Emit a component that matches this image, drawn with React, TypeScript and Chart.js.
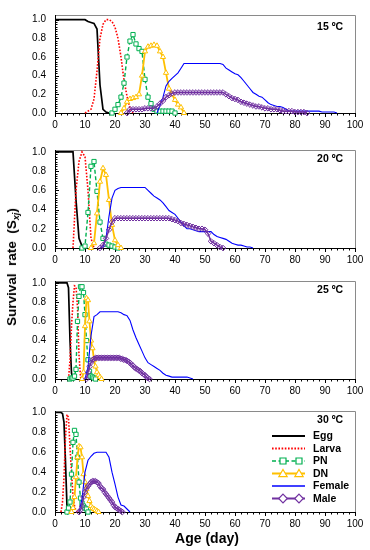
import React, { useEffect, useRef } from 'react';
import { Chart, registerables } from 'chart.js';

Chart.register(...registerables);

const FONT = '"Liberation Sans", Arial, Helvetica, sans-serif';

// ---------- labels ----------
const stageNames = ['Egg', 'Larva', 'PN', 'DN', 'Female', 'Male'];
const temperatures = ['15 ºC', '20 ºC', '25 ºC', '30 ºC'];
const xTickValues = [0, 10, 20, 30, 40, 50, 60, 70, 80, 90, 100];
const yTickValues = [0, 0.2, 0.4, 0.6, 0.8, 1.0];

// ---------- 15 ºC (series order: Egg, Larva, PN, DN, Female, Male) ----------
const start15 = [0, 10, 19, 22, 34, 24];
const step15 = [1, 1, 1, 1, 1, 1];
const egg15 = [1, 1, 1, 1, 1, 1, 1, 1, 1, 1, 1, 0.98, 0.97, 0.96, 0.9, 0.3, 0.04, 0.01, 0];
const larva15 = [0, 0.02, 0.04, 0.15, 0.45, 0.8, 0.95, 1.0, 1.0, 0.98, 0.92, 0.8, 0.6, 0.35, 0.18, 0.05, 0];
const pn15 = [0, 0.04, 0.09, 0.17, 0.32, 0.6, 0.77, 0.84, 0.74, 0.69, 0.66, 0.36, 0.17, 0.1, 0.04, 0.02, 0.02, 0.02, 0.02, 0.02, 0.02, 0];
const dn15 = [0, 0.05, 0.12, 0.15, 0.16, 0.17, 0.2, 0.4, 0.66, 0.71, 0.72, 0.73, 0.72, 0.66, 0.6, 0.43, 0.26, 0.2, 0.14, 0.09, 0.06, 0];
const female15 = [0, 0.08, 0.17, 0.29, 0.34, 0.37, 0.4, 0.43, 0.48, 0.53,
  0.53, 0.53, 0.53, 0.53, 0.53, 0.53, 0.53, 0.53, 0.53, 0.53, 0.53, 0.53,
  0.52, 0.48, 0.46, 0.44, 0.42, 0.41, 0.38, 0.34, 0.3, 0.26, 0.22, 0.2, 0.18, 0.17, 0.14, 0.11, 0.09, 0.08, 0.07, 0.07, 0.06, 0.04, 0.02,
  0.02, 0.02, 0.02, 0.02, 0.02, 0.02, 0.02, 0.02, 0.02, 0.02, 0.01, 0.01, 0.01, 0.01, 0.01, 0];
const male15 = [0, 0.04, 0.04, 0.04, 0.04, 0.04, 0.05, 0.05, 0.05, 0.05, 0.07, 0.1, 0.13, 0.17, 0.19, 0.21, 0.22,
  0.22, 0.22, 0.22, 0.22, 0.22, 0.22, 0.22, 0.22, 0.22, 0.22, 0.22, 0.22, 0.22, 0.22, 0.22, 0.22,
  0.2, 0.18, 0.16, 0.15, 0.14, 0.12, 0.11, 0.1, 0.09, 0.08, 0.07, 0.07, 0.06, 0.05, 0.05, 0.04, 0.04, 0.04, 0.03,
  0.02, 0.02, 0.02, 0.02, 0.01, 0.01, 0.01, 0.01, 0];

// ---------- 20 ºC ----------
const start20 = [0, 6, 9, 12, 15, 15];
const step20 = [1, 1, 1, 1, 1, 1];
const egg20 = [1, 1, 1, 1, 1, 1, 1, 0.5, 0.1, 0.02, 0];
const larva20 = [0, 0.6, 0.9, 1.0, 0.95, 0.6, 0.1, 0];
const pn20 = [0, 0.02, 0.37, 0.85, 0.9, 0.59, 0.27, 0.1, 0.04, 0.03, 0.02, 0.01, 0];
const dn20 = [0, 0.05, 0.36, 0.69, 0.83, 0.76, 0.5, 0.24, 0.08, 0.03, 0];
const female20 = [0, 0.01, 0.1, 0.33, 0.52, 0.6, 0.62, 0.63, 0.63, 0.63, 0.63, 0.63, 0.63, 0.63, 0.63, 0.63,
  0.6, 0.57, 0.54, 0.52, 0.5, 0.47, 0.43, 0.39, 0.37, 0.35, 0.31, 0.27, 0.23, 0.2, 0.2, 0.19, 0.18, 0.17,
  0.17, 0.17, 0.17, 0.17, 0.14, 0.12, 0.11, 0.1, 0.09, 0.07, 0.05, 0.04, 0.03, 0.03, 0.02, 0.01, 0.01, 0];
const male20 = [0, 0.03, 0.1, 0.19, 0.27, 0.31, 0.31, 0.31, 0.31, 0.31, 0.31, 0.31, 0.31, 0.31, 0.31, 0.31,
  0.31, 0.31, 0.31, 0.31, 0.31, 0.31, 0.31, 0.31, 0.3, 0.29, 0.28, 0.26, 0.25, 0.24, 0.23, 0.22, 0.21, 0.2,
  0.2, 0.19, 0.15, 0.07, 0.05, 0.03, 0.01, 0];

// ---------- 25 ºC ----------
const start25 = [0, 4.5, 5, 9, 10, 10.5];
const step25 = [0.5, 0.5, 0.5, 0.5, 1, 0.5];
const egg25 = [1, 1, 1, 1, 1, 1, 1, 1, 1, 0.95, 0.4, 0.06, 0];
const larva25 = [0, 0.2, 0.55, 0.8, 0.97, 0.96, 0.75, 0.25, 0.02, 0];
const pn25 = [0, 0.01, 0.01, 0.03, 0.1, 0.6, 0.86, 0.96, 0.96, 0.9, 0.67, 0.4, 0.2, 0.08, 0.03, 0.02, 0.01, 0];
const dn25 = [0, 0.07, 0.55, 0.84, 0.82, 0.6, 0.4, 0.32, 0.2, 0.13, 0.07, 0.04, 0.02, 0];
const female25 = [0, 0.12, 0.45, 0.65, 0.67, 0.7, 0.7, 0.7, 0.7, 0.7, 0.7, 0.7, 0.69, 0.67, 0.66, 0.61, 0.51,
  0.43, 0.36, 0.29, 0.22, 0.17, 0.15, 0.13, 0.11, 0.09, 0.06, 0.04, 0.03, 0.02, 0.02, 0.02, 0.02, 0.02, 0.02, 0.01, 0];
const male25 = [0, 0.07, 0.13, 0.17, 0.2, 0.21, 0.22, 0.22, 0.22, 0.22, 0.22, 0.22, 0.22, 0.22, 0.22,
  0.22, 0.22, 0.22, 0.22, 0.22, 0.22, 0.22, 0.22, 0.21, 0.21, 0.2, 0.2, 0.19, 0.18, 0.17, 0.15, 0.14, 0.12,
  0.11, 0.1, 0.09, 0.08, 0.06, 0.05, 0.04, 0.02, 0.01, 0];

// ---------- 30 ºC ----------
const start30 = [0, 2, 4, 5.5, 8, 8];
const step30 = [0.5, 0.5, 0.5, 0.5, 1, 0.5];
const egg30 = [1, 1, 1, 1, 1, 0.99, 0.9, 0.5, 0.05, 0];
const larva30 = [0, 0.1, 0.35, 0.75, 0.98, 0.95, 0.65, 0.4, 0.17, 0.06, 0.01, 0];
const pn30 = [0, 0.04, 0.1, 0.38, 0.7, 0.82, 0.78, 0.55, 0.3, 0.14, 0.09, 0.06, 0.04, 0.03, 0];
const dn30 = [0, 0.04, 0.15, 0.35, 0.55, 0.66, 0.65, 0.55, 0.38, 0.3, 0.23, 0.16, 0.11, 0.06, 0.04, 0.03, 0.02, 0.01, 0];
const female30 = [0, 0.13, 0.4, 0.52, 0.56, 0.59, 0.6, 0.6, 0.6, 0.6, 0.55, 0.4, 0.28, 0.15, 0.07, 0.06, 0.03, 0];
const male30 = [0, 0.02, 0.06, 0.15, 0.2, 0.24, 0.26, 0.28, 0.3, 0.31, 0.31, 0.31, 0.3, 0.29, 0.26, 0.24, 0.23,
  0.2, 0.18, 0.16, 0.14, 0.12, 0.1, 0.07, 0.05, 0.04, 0.03, 0.02, 0.01, 0];

const panelData = [
  { starts: start15, steps: step15, series: [egg15, larva15, pn15, dn15, female15, male15] },
  { starts: start20, steps: step20, series: [egg20, larva20, pn20, dn20, female20, male20] },
  { starts: start25, steps: step25, series: [egg25, larva25, pn25, dn25, female25, male25] },
  { starts: start30, steps: step30, series: [egg30, larva30, pn30, dn30, female30, male30] },
];

// ---------- layout & style (not data) ----------
const LAYOUT = [
  { canvasTop: 0, padTop: 7, areaH: 106, yMax: 1.05 },
  { canvasTop: 135, padTop: 8, areaH: 105, yMax: 1.02 },
  { canvasTop: 266, padTop: 8, areaH: 105, yMax: 1.02 },
  { canvasTop: 396, padTop: 8, areaH: 108, yMax: 1.015 },
];
const AXIS_H = 22;

const STYLES = [
  { color: '#000000', width: 1.7, dash: [] as number[], point: null as string | null, fill: '#ffffff', r: 0 },
  { color: '#FF0000', width: 1.6, dash: [1.6, 1.6], point: null, fill: '#ffffff', r: 0 },
  { color: '#00B050', width: 1.4, dash: [4, 2.5], point: 'rect', fill: '#ffffff', r: 3 },
  { color: '#FFC000', width: 1.8, dash: [], point: 'triangle', fill: '#ffffff', r: 3 },
  { color: '#0000FF', width: 1.1, dash: [], point: null, fill: '#ffffff', r: 0 },
  { color: '#7030A0', width: 1.5, dash: [], point: 'rectRot', fill: 'rgba(255,255,255,0)', r: 2.8 },
];

function toPoints(start: number, step: number, vals: number[]) {
  return vals.map((v, i) => ({ x: start + i * step, y: v }));
}

function drawMarker(ctx: CanvasRenderingContext2D, kind: string, x: number, y: number, r: number) {
  ctx.beginPath();
  if (kind === 'rect') {
    ctx.rect(x - r, y - r, 2 * r, 2 * r);
  } else if (kind === 'triangle') {
    ctx.moveTo(x, y - r * 1.1);
    ctx.lineTo(x + r * 1.15, y + r * 0.85);
    ctx.lineTo(x - r * 1.15, y + r * 0.85);
    ctx.closePath();
  } else {
    ctx.moveTo(x, y - r * 1.2);
    ctx.lineTo(x + r * 1.2, y);
    ctx.lineTo(x, y + r * 1.2);
    ctx.lineTo(x - r * 1.2, y);
    ctx.closePath();
  }
  ctx.fillStyle = '#ffffff';
  ctx.fill();
  ctx.stroke();
}

function Panel({ index }: { index: number }) {
  const ref = useRef<HTMLCanvasElement | null>(null);
  const lay = LAYOUT[index];
  const h = lay.padTop + lay.areaH + AXIS_H;

  useEffect(() => {
    if (!ref.current) return;
    const pd = panelData[index];
    const datasets = pd.series.map((vals, i) => {
      const st = STYLES[i];
      return {
        label: stageNames[i],
        data: toPoints(pd.starts[i], pd.steps[i], vals),
        borderColor: st.color,
        borderWidth: st.width,
        borderDash: st.dash,
        backgroundColor: st.fill,
        pointStyle: st.point || 'circle',
        pointRadius: st.r,
        pointBorderWidth: 1,
        pointBorderColor: st.color,
        pointBackgroundColor: st.fill,
        tension: 0,
        fill: false,
        clip: false as any,
        order: 5 - i,
      };
    });

    const framePlugin = {
      id: 'frame' + index,
      beforeDatasetsDraw(chart: any) {
        const { ctx, chartArea: a, scales } = chart;
        const xs = scales.x, ys = scales.y;
        ctx.save();
        ctx.lineWidth = 1;
        ctx.strokeStyle = '#8a8a8a';
        ctx.beginPath();
        ctx.moveTo(a.left, Math.round(a.top) + 0.5);
        ctx.lineTo(Math.round(a.right) + 0.5, Math.round(a.top) + 0.5);
        ctx.lineTo(Math.round(a.right) + 0.5, a.bottom);
        ctx.stroke();
        ctx.strokeStyle = '#000000';
        ctx.beginPath();
        ctx.moveTo(Math.round(a.left) + 0.5, a.top);
        ctx.lineTo(Math.round(a.left) + 0.5, Math.round(a.bottom) + 0.5);
        ctx.lineTo(a.right + 1, Math.round(a.bottom) + 0.5);
        ctx.stroke();
        ctx.beginPath();
        for (let d = 0; d <= 100; d += 2) {
          const px = Math.round(xs.getPixelForValue(d)) + 0.5;
          const len = d % 10 === 0 ? 4 : 2.5;
          ctx.moveTo(px, Math.round(a.bottom));
          ctx.lineTo(px, Math.round(a.bottom) + len);
        }
        for (let i = 0; i <= 40; i++) {
          const py = Math.round(ys.getPixelForValue(i * 0.025)) + 0.5;
          const len = i % 8 === 0 ? 4 : 2.5;
          ctx.moveTo(Math.round(a.left), py);
          ctx.lineTo(Math.round(a.left) + len, py);
        }
        ctx.stroke();
        ctx.restore();
      },
      afterDraw(chart: any) {
        const { ctx, chartArea: a, scales } = chart;
        const xs = scales.x, ys = scales.y;
        ctx.save();
        ctx.fillStyle = '#000';
        ctx.font = 'bold 10.5px ' + FONT;
        ctx.textAlign = 'center';
        ctx.textBaseline = 'middle';
        ctx.fillText(temperatures[index], xs.getPixelForValue(91.7), ys.getPixelForValue(0.92));
        if (index === 3) {
          const x0 = a.left + 217, x1 = a.left + 250, tx = a.left + 258;
          ctx.textAlign = 'left';
          ctx.font = 'bold 10.5px ' + FONT;
          stageNames.forEach((name, i) => {
            const st = STYLES[i];
            const y = a.top + 25 + i * 12.5;
            ctx.strokeStyle = st.color;
            ctx.lineWidth = st.width + 0.3;
            ctx.setLineDash(st.dash);
            ctx.beginPath();
            ctx.moveTo(x0, y);
            ctx.lineTo(x1, y);
            ctx.stroke();
            ctx.setLineDash([]);
            if (st.point) {
              ctx.lineWidth = 1.2;
              const r = st.point === 'rect' ? 3 : 3.6;
              drawMarker(ctx, st.point, x0 + 11, y, r);
              drawMarker(ctx, st.point, x0 + 27, y, r);
            }
            ctx.fillStyle = '#000';
            ctx.fillText(name, tx, y + 0.5);
          });
        }
        ctx.restore();
      },
    };

    const chart = new Chart(ref.current, {
      type: 'line',
      data: { datasets: datasets as any },
      options: {
        responsive: false,
        animation: false,
        devicePixelRatio: 1,
        events: [],
        layout: { padding: { top: lay.padTop, left: 0, right: 15, bottom: 0 } },
        plugins: { legend: { display: false }, tooltip: { enabled: false } },
        elements: { line: { borderCapStyle: 'butt' } },
        scales: {
          x: {
            type: 'linear',
            min: 0,
            max: 100,
            afterFit: (s: any) => { s.height = AXIS_H; },
            afterBuildTicks: (s: any) => { s.ticks = xTickValues.map((v) => ({ value: v })); },
            grid: { display: false, drawTicks: false },
            border: { display: false },
            ticks: {
              autoSkip: false,
              maxRotation: 0,
              padding: 6,
              color: '#000',
              font: { family: FONT, size: 10 },
              callback: (v: any) => String(v),
            },
          },
          y: {
            type: 'linear',
            min: 0,
            max: lay.yMax,
            afterFit: (s: any) => { s.width = 55; },
            afterBuildTicks: (s: any) => { s.ticks = yTickValues.map((v) => ({ value: v })); },
            grid: { display: false, drawTicks: false },
            border: { display: false },
            ticks: {
              padding: 9,
              color: '#000',
              font: { family: FONT, size: 10 },
              callback: (v: any) => Number(v).toFixed(1),
            },
          },
        },
      },
      plugins: [framePlugin],
    });
    return () => chart.destroy();
  }, [index]);

  return (
    <canvas
      ref={ref}
      width={370}
      height={h}
      style={{ position: 'absolute', left: 0, top: lay.canvasTop, width: 370, height: h }}
    />
  );
}

export default function App() {
  return (
    <div style={{ position: 'absolute', left: 0, top: 0, width: 370, height: 550, background: '#ffffff', fontFamily: FONT, color: '#000' }}>
      {[0, 1, 2, 3].map((i) => <Panel key={i} index={i} />)}
      <div
        style={{
          position: 'absolute', left: 12, top: 267, transform: 'translate(-50%, -50%) rotate(-90deg)',
          fontWeight: 'bold', fontSize: 13.5, whiteSpace: 'pre', lineHeight: '16px',
        }}
      >
        Survival  rate  (S<sub style={{ fontStyle: 'italic', fontSize: 9, verticalAlign: '-3px', lineHeight: 0 }}>xj</sub>)
      </div>
      <div
        style={{
          position: 'absolute', left: 207, top: 538, transform: 'translate(-50%, -50%)',
          fontWeight: 'bold', fontSize: 14, whiteSpace: 'pre', lineHeight: '16px',
        }}
      >
        Age (day)
      </div>
    </div>
  );
}
